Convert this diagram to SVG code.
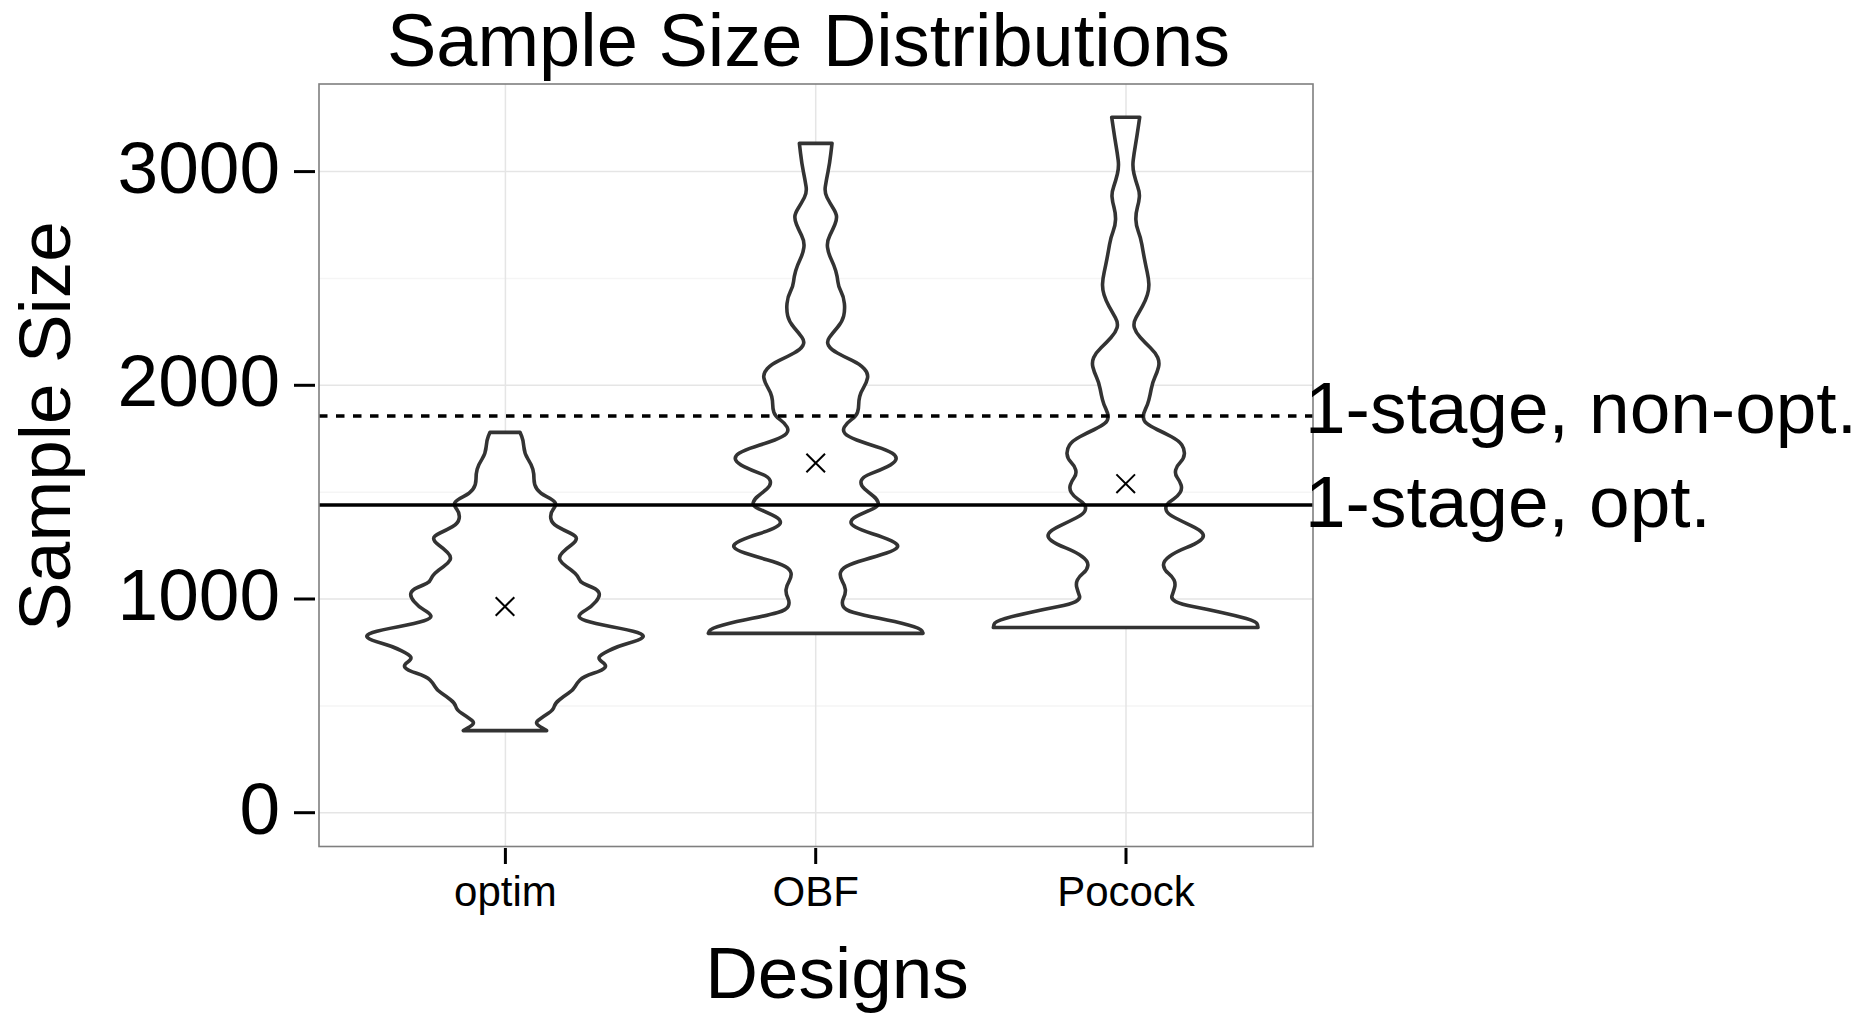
<svg xmlns="http://www.w3.org/2000/svg" width="1876" height="1016" viewBox="0 0 1876 1016">
<style>
text{font-family:"Liberation Sans",Arial,Helvetica,sans-serif;fill:#000}
.big{font-size:73px}
.tick{font-size:42px}
.gmaj{stroke:#e5e5e5;stroke-width:1.5}
.gmin{stroke:#f5f5f5;stroke-width:1.5}
.violin{fill:#fff;stroke:#333;stroke-width:3.6;stroke-linejoin:round}
.mean{stroke:#000;stroke-width:2}
.axtick{stroke:#000;stroke-width:3}
.ref{stroke:#000;stroke-width:3.3;fill:none}
</style>
<rect width="1876" height="1016" fill="#fff"/>
<g id="grid">
<line class="gmin" x1="319" y1="705.9" x2="1313" y2="705.9"/>
<line class="gmin" x1="319" y1="492.2" x2="1313" y2="492.2"/>
<line class="gmin" x1="319" y1="278.5" x2="1313" y2="278.5"/>
<line class="gmaj" x1="319" y1="812.7" x2="1313" y2="812.7"/>
<line class="gmaj" x1="319" y1="599" x2="1313" y2="599"/>
<line class="gmaj" x1="319" y1="385.3" x2="1313" y2="385.3"/>
<line class="gmaj" x1="319" y1="171.6" x2="1313" y2="171.6"/>
<line class="gmaj" x1="505.4" y1="84" x2="505.4" y2="846.5"/>
<line class="gmaj" x1="815.7" y1="84" x2="815.7" y2="846.5"/>
<line class="gmaj" x1="1126" y1="84" x2="1126" y2="846.5"/>
</g>
<g id="violin-optim">
<path class="violin" vector-effect="non-scaling-stroke" transform="translate(505,410) scale(0.33333)" d="M -45 67 L -50 78.5 Q -55 90 -56.5 110 Q -58 130 -69 147.5 Q -80 165 -83.5 177.5 Q -87 190 -87 207.5 Q -87 225 -96 237.5 Q -105 250 -125 260 Q -145 270 -150 277.5 Q -155 285 -145 297.5 Q -135 310 -137.5 325 Q -140 340 -157.5 350 Q -175 360 -195 369 Q -215 378 -214 386.5 Q -213 395 -199 405 Q -185 415 -172.5 427.5 Q -160 440 -165 450 Q -170 460 -185 470 Q -200 480 -210 490 Q -220 500 -222.5 507.5 Q -225 515 -235 520 Q -245 525 -262.5 532.5 Q -280 540 -282.5 550 Q -285 560 -272.5 575 Q -260 590 -242.5 600 Q -225 610 -222.5 617.5 Q -220 625 -242.5 632.5 Q -265 640 -320 650 Q -375 660 -397.5 667.5 Q -420 675 -412.5 682.5 Q -405 690 -370 700 Q -335 710 -310 722.5 Q -285 735 -282.5 741.5 Q -280 748 -292.5 756.5 Q -305 765 -300 772.5 Q -295 780 -265 790 Q -235 800 -225 810 Q -215 820 -210 830 Q -205 840 -190 850 Q -175 860 -162.5 870 Q -150 880 -147.5 890 Q -145 900 -130 910 Q -115 920 -104 927.5 Q -93 935 -95 940 Q -97 945 -111 953.5 L -125 962 L 125 962 L 111 953.5 Q 97 945 95 940 Q 93 935 104 927.5 Q 115 920 130 910 Q 145 900 147.5 890 Q 150 880 162.5 870 Q 175 860 190 850 Q 205 840 210 830 Q 215 820 225 810 Q 235 800 265 790 Q 295 780 300 772.5 Q 305 765 292.5 756.5 Q 280 748 282.5 741.5 Q 285 735 310 722.5 Q 335 710 370 700 Q 405 690 412.5 682.5 Q 420 675 397.5 667.5 Q 375 660 320 650 Q 265 640 242.5 632.5 Q 220 625 222.5 617.5 Q 225 610 242.5 600 Q 260 590 272.5 575 Q 285 560 282.5 550 Q 280 540 262.5 532.5 Q 245 525 235 520 Q 225 515 222.5 507.5 Q 220 500 210 490 Q 200 480 185 470 Q 170 460 165 450 Q 160 440 172.5 427.5 Q 185 415 199 405 Q 213 395 214 386.5 Q 215 378 195 369 Q 175 360 157.5 350 Q 140 340 137.5 325 Q 135 310 145 297.5 Q 155 285 150 277.5 Q 145 270 125 260 Q 105 250 96 237.5 Q 87 225 87 207.5 Q 87 190 83.5 177.5 Q 80 165 69 147.5 Q 58 130 56.5 110 Q 55 90 50 78.5 L 45 67 Z"/>
</g>
<g id="violin-obf">
<path class="violin" vector-effect="non-scaling-stroke" transform="translate(815.7,130) scale(0.33333)" d="M -49 40 L -45.5 70 Q -42 100 -37 125 Q -32 150 -29 168.5 Q -26 187 -34 202.5 Q -42 218 -52 234 Q -62 250 -62.5 260 Q -63 270 -57.5 283.5 Q -52 297 -42.5 316 Q -33 335 -35.5 352.5 Q -38 370 -46.5 387.5 Q -55 405 -60 422.5 Q -65 440 -66.5 455 Q -68 470 -76 485 Q -84 500 -86 520 Q -88 540 -84 557.5 Q -80 575 -65 592.5 Q -50 610 -41 622.5 Q -32 635 -38.5 646.5 Q -45 658 -65 669 Q -85 680 -109 691.5 Q -133 703 -145.5 716.5 Q -158 730 -155.5 743.5 Q -153 757 -144 772 Q -135 787 -132 799.5 Q -129 812 -129 823.5 Q -129 835 -125.5 846.5 Q -122 858 -107 869 Q -92 880 -86 891 Q -80 902 -88 911 Q -96 920 -123 930 Q -150 940 -182.5 950 Q -215 960 -230 970 Q -245 980 -240 990 Q -235 1000 -215 1010 Q -195 1020 -167.5 1030 Q -140 1040 -136.5 1052.5 Q -133 1065 -146.5 1076.5 Q -160 1088 -172.5 1098 Q -185 1108 -187.5 1118 Q -190 1128 -171 1136.5 Q -152 1145 -131 1155 Q -110 1165 -106.5 1173.5 Q -103 1182 -119 1191 Q -135 1200 -170 1211 Q -205 1222 -227.5 1232.5 Q -250 1243 -245 1251.5 Q -240 1260 -212.5 1269 Q -185 1278 -146.5 1289 Q -108 1300 -92 1309 Q -76 1318 -74 1329 Q -72 1340 -80 1354 Q -88 1368 -89 1379 Q -90 1390 -83.5 1404 Q -77 1418 -82.5 1429 Q -88 1440 -114 1447.5 Q -140 1455 -190 1465 Q -240 1475 -277.5 1485 Q -315 1495 -318.5 1502.5 L -322 1510 L 322 1510 L 318.5 1502.5 Q 315 1495 277.5 1485 Q 240 1475 190 1465 Q 140 1455 114 1447.5 Q 88 1440 82.5 1429 Q 77 1418 83.5 1404 Q 90 1390 89 1379 Q 88 1368 80 1354 Q 72 1340 74 1329 Q 76 1318 92 1309 Q 108 1300 146.5 1289 Q 185 1278 212.5 1269 Q 240 1260 245 1251.5 Q 250 1243 227.5 1232.5 Q 205 1222 170 1211 Q 135 1200 119 1191 Q 103 1182 106.5 1173.5 Q 110 1165 131 1155 Q 152 1145 171 1136.5 Q 190 1128 187.5 1118 Q 185 1108 172.5 1098 Q 160 1088 146.5 1076.5 Q 133 1065 136.5 1052.5 Q 140 1040 167.5 1030 Q 195 1020 215 1010 Q 235 1000 240 990 Q 245 980 230 970 Q 215 960 182.5 950 Q 150 940 123 930 Q 96 920 88 911 Q 80 902 86 891 Q 92 880 107 869 Q 122 858 125.5 846.5 Q 129 835 129 823.5 Q 129 812 132 799.5 Q 135 787 144 772 Q 153 757 155.5 743.5 Q 158 730 145.5 716.5 Q 133 703 109 691.5 Q 85 680 65 669 Q 45 658 38.5 646.5 Q 32 635 41 622.5 Q 50 610 65 592.5 Q 80 575 84 557.5 Q 88 540 86 520 Q 84 500 76 485 Q 68 470 66.5 455 Q 65 440 60 422.5 Q 55 405 46.5 387.5 Q 38 370 35.5 352.5 Q 33 335 42.5 316 Q 52 297 57.5 283.5 Q 63 270 62.5 260 Q 62 250 52 234 Q 42 218 34 202.5 Q 26 187 29 168.5 Q 32 150 37 125 Q 42 100 45.5 70 L 49 40 Z"/>
</g>
<g id="violin-pocock">
<path class="violin" vector-effect="non-scaling-stroke" transform="translate(1125.7,100) scale(0.33333,0.34412)" d="M -42 50 L -37.5 80 Q -33 110 -29 132.5 Q -25 155 -22.5 175 Q -20 195 -25 215 Q -30 235 -36 251.5 Q -42 268 -41 281.5 Q -40 295 -35 312.5 Q -30 330 -30.5 347.5 Q -31 365 -38 382.5 Q -45 400 -48.5 420 Q -52 440 -56 460 Q -60 480 -64.5 500 Q -69 520 -69.5 535 Q -70 550 -65 566 Q -60 582 -50 599.5 Q -40 617 -31 632.5 Q -22 648 -26 661.5 Q -30 675 -44 690 Q -58 705 -74 720 Q -90 735 -96 748.5 Q -102 762 -98.5 776 Q -95 790 -87.5 806 Q -80 822 -76.5 840 Q -73 858 -69.5 871.5 Q -66 885 -59.5 897.5 Q -53 910 -53 921 Q -53 932 -63 940 Q -73 948 -94 957.5 Q -115 967 -137.5 978.5 Q -160 990 -168.5 1002.5 Q -177 1015 -176 1028.5 Q -175 1042 -164 1052.5 Q -153 1063 -150 1075 Q -147 1087 -154.5 1097 Q -162 1107 -166 1118.5 Q -170 1130 -163 1141 Q -156 1152 -143 1160 Q -130 1168 -124 1175.5 Q -118 1183 -122 1193 Q -126 1203 -148 1214 Q -170 1225 -197.5 1237.5 Q -225 1250 -231 1260 Q -237 1270 -223.5 1280 Q -210 1290 -180 1301.5 Q -150 1313 -131 1326.5 Q -112 1340 -113.5 1352.5 Q -115 1365 -127.5 1375 Q -140 1385 -145 1395 Q -150 1405 -146.5 1417.5 Q -143 1430 -139 1440 Q -135 1450 -150 1457.5 Q -165 1465 -205 1472.5 Q -245 1480 -287.5 1489 Q -330 1498 -361.5 1506.5 Q -393 1515 -395 1524 L -397 1533 L 397 1533 L 395 1524 Q 393 1515 361.5 1506.5 Q 330 1498 287.5 1489 Q 245 1480 205 1472.5 Q 165 1465 150 1457.5 Q 135 1450 139 1440 Q 143 1430 146.5 1417.5 Q 150 1405 145 1395 Q 140 1385 127.5 1375 Q 115 1365 113.5 1352.5 Q 112 1340 131 1326.5 Q 150 1313 180 1301.5 Q 210 1290 223.5 1280 Q 237 1270 231 1260 Q 225 1250 197.5 1237.5 Q 170 1225 148 1214 Q 126 1203 122 1193 Q 118 1183 124 1175.5 Q 130 1168 143 1160 Q 156 1152 163 1141 Q 170 1130 166 1118.5 Q 162 1107 154.5 1097 Q 147 1087 150 1075 Q 153 1063 164 1052.5 Q 175 1042 176 1028.5 Q 177 1015 168.5 1002.5 Q 160 990 137.5 978.5 Q 115 967 94 957.5 Q 73 948 63 940 Q 53 932 53 921 Q 53 910 59.5 897.5 Q 66 885 69.5 871.5 Q 73 858 76.5 840 Q 80 822 87.5 806 Q 95 790 98.5 776 Q 102 762 96 748.5 Q 90 735 74 720 Q 58 705 44 690 Q 30 675 26 661.5 Q 22 648 31 632.5 Q 40 617 50 599.5 Q 60 582 65 566 Q 70 550 69.5 535 Q 69 520 64.5 500 Q 60 480 56 460 Q 52 440 48.5 420 Q 45 400 38 382.5 Q 31 365 30.5 347.5 Q 30 330 35 312.5 Q 40 295 41 281.5 Q 42 268 36 251.5 Q 30 235 25 215 Q 20 195 22.5 175 Q 25 155 29 132.5 Q 33 110 37.5 80 L 42 50 Z"/>
</g>
<g id="reference-lines">
<line class="ref" x1="319" y1="416" x2="1313" y2="416" stroke-dasharray="8.5 8.5"/>
<line class="ref" x1="319" y1="505" x2="1313" y2="505"/>
</g>
<g id="means">
<path class="mean" d="M495.7 597.2 L514.3 615.8 M514.3 597.2 L495.7 615.8"/>
<path class="mean" d="M806.4 453.7 L825 472.3 M825 453.7 L806.4 472.3"/>
<path class="mean" d="M1116.4 474.4 L1135 493 M1135 474.4 L1116.4 493"/>
</g>
<rect id="panel-border" x="319" y="84" width="994" height="762.5" fill="none" stroke="#7f7f7f" stroke-width="1.6"/>
<g id="y-axis">
<line class="axtick" x1="294" y1="171.6" x2="315" y2="171.6"/>
<line class="axtick" x1="294" y1="385.3" x2="315" y2="385.3"/>
<line class="axtick" x1="294" y1="599" x2="315" y2="599"/>
<line class="axtick" x1="294" y1="812.7" x2="315" y2="812.7"/>
<text class="big" x="280" y="192.6" text-anchor="end">3000</text>
<text class="big" x="280" y="406.3" text-anchor="end">2000</text>
<text class="big" x="280" y="620" text-anchor="end">1000</text>
<text class="big" x="280" y="833.7" text-anchor="end">0</text>
<text class="big" transform="translate(70,426) rotate(-90)" text-anchor="middle">Sample Size</text>
</g>
<g id="x-axis">
<line class="axtick" x1="505.4" y1="848" x2="505.4" y2="864"/>
<line class="axtick" x1="815.7" y1="848" x2="815.7" y2="864"/>
<line class="axtick" x1="1126" y1="848" x2="1126" y2="864"/>
<text class="tick" x="505.4" y="906" text-anchor="middle">optim</text>
<text class="tick" x="815.7" y="906" text-anchor="middle">OBF</text>
<text class="tick" x="1126" y="906" text-anchor="middle">Pocock</text>
<text class="big" x="837" y="998" text-anchor="middle">Designs</text>
</g>
<g id="labels">
<text class="big" x="808.5" y="66" text-anchor="middle" style="font-size:74px">Sample Size Distributions</text>
<text class="big" x="1305" y="433">1-stage, non-opt.</text>
<text class="big" x="1305" y="527">1-stage, opt.</text>
</g>
</svg>
